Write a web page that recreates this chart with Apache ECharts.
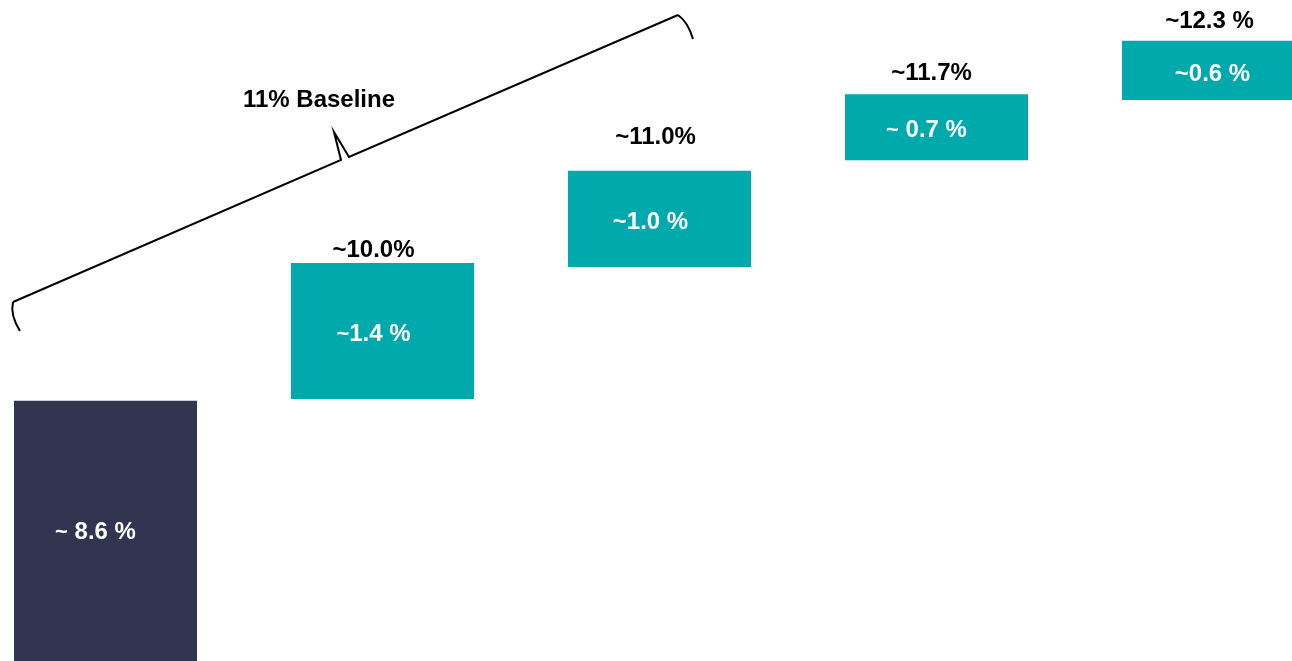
<!DOCTYPE html>
<html>
<head>
<meta charset="utf-8">
<script src="https://cdn.jsdelivr.net/npm/echarts@6/dist/echarts.min.js"></script>
<style>
  html, body { margin: 0; padding: 0; background: #fff; }
  #chart { width: 1292px; height: 661px; }
</style>
</head>
<body>
<div id="chart"></div>
<script>
const categories = ['Base', 'Step 1', 'Step 2', 'Step 3', 'Step 4'];
// bar extents (value axis, %)
const barBottom = [0, 8.60, 9.96, 11.06, 11.68];
const barTop = [8.58, 10.00, 10.95, 11.74, 12.29];
const stepLabels = ['~ 8.6 %', '~1.4 %', '~1.0 %', '~ 0.7 %', '~0.6 %'];
const totalLabels = ['', '~10.0%', '~11.0%', '~11.7%', '~12.3 %'];
const smallTilde = [true, true, false, true, false];

// label nudges in px (layout only)
const stepShift = [[-10, 1], [-9, 3], [-9, 3], [-10, 3], [-1, 4]];
const totalShiftX = [0, -9, -4, -5, -4];
const totalGap = [0, 0, 21, 8, 7];

const NAVY = '#31354f';
const TEAL = '#00a9ac';
const FONT = "'Liberation Sans', Arial, sans-serif";
const braceStyle = { stroke: '#000', lineWidth: 2, fill: null };

const chart = echarts.init(document.getElementById('chart'));

const option = {
  animation: false,
  grid: { left: -33, right: -60, top: 0, bottom: 0, outerBoundsMode: 'none' },
  xAxis: { type: 'category', data: categories, show: false },
  yAxis: { type: 'value', min: 5.9, max: 12.71, show: false },
  series: [
    {
      // invisible base of the waterfall
      type: 'bar',
      stack: 'w',
      silent: true,
      barWidth: 183,
      itemStyle: { color: 'transparent' },
      data: barBottom
    },
    {
      type: 'bar',
      stack: 'w',
      barWidth: 183,
      data: barTop.map((t, i) => ({
        value: +(t - barBottom[i]).toFixed(3),
        itemStyle: { color: i === 0 ? NAVY : TEAL },
        label: { offset: stepShift[i] }
      })),
      label: {
        show: true,
        position: 'inside',
        color: '#fff',
        fontFamily: FONT,
        fontWeight: 'bold',
        fontSize: 24,
        formatter: (p) => {
          const s = stepLabels[p.dataIndex];
          return smallTilde[p.dataIndex] ? '{t|~}' + s.slice(1) : s;
        },
        rich: {
          t: {
            fontFamily: FONT, fontWeight: 'bold', fontSize: 22, lineHeight: 16,
            color: '#fff', verticalAlign: 'bottom'
          }
        }
      }
    },
    {
      // running totals above the bars
      type: 'scatter',
      symbolSize: 1,
      itemStyle: { color: 'transparent', opacity: 1 },
      silent: true,
      data: barTop.map((t, i) => ({
        value: [i, t],
        label: { distance: totalGap[i], offset: [totalShiftX[i], 0] }
      })),
      label: {
        show: true,
        position: 'top',
        color: '#000',
        fontFamily: FONT,
        fontWeight: 'bold',
        fontSize: 24,
        formatter: (p) => totalLabels[p.dataIndex]
      }
    }
  ],
  graphic: [
    {
      type: 'polyline',
      silent: true,
      shape: { points: [[13, 302], [341, 160], [334, 132], [349, 157], [678, 15]] },
      style: braceStyle
    },
    {
      type: 'bezierCurve',
      silent: true,
      shape: { x1: 20, y1: 331, cpx1: 10, cpy1: 315, x2: 13, y2: 302 },
      style: braceStyle
    },
    {
      type: 'bezierCurve',
      silent: true,
      shape: { x1: 678, y1: 15, cpx1: 688, cpy1: 22, x2: 693, y2: 39 },
      style: braceStyle
    },
    {
      type: 'text',
      silent: true,
      x: 319,
      y: 100,
      style: {
        text: '11% Baseline',
        fill: '#000',
        font: 'bold 24px ' + FONT,
        textAlign: 'center',
        textVerticalAlign: 'middle'
      }
    }
  ]
};

chart.setOption(option);
</script>
</body>
</html>
